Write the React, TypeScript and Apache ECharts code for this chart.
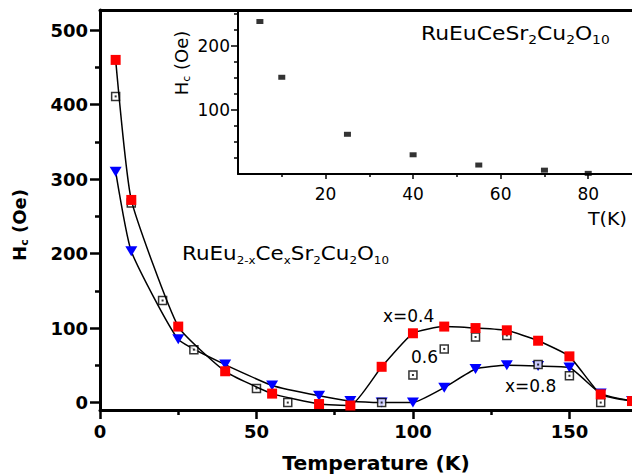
import React, { useEffect, useRef } from "react";
import * as echarts from "echarts";

// x = 0.4 (red squares, line)
const tempA = [5, 10, 25, 40, 55, 70, 80, 90, 100, 110, 120, 130, 140, 150, 160, 170];
const hcA = [460, 272, 102, 42, 12, -2, -4, 48, 93, 102, 100, 97, 83, 62, 11, 2];
// x = 0.6 (open squares)
const tempB = [5, 10, 20, 30, 50, 60, 90, 100, 110, 120, 130, 140, 150, 160];
const hcB = [411, 268, 137, 71, 19, 0, 0, 37, 72, 88, 90, 51, 36, 0];
// x = 0.8 (blue triangles, line)
const tempC = [5, 10, 25, 40, 55, 70, 80, 90, 100, 110, 120, 130, 140, 150, 160, 170];
const hcC = [310, 203, 85, 51, 23, 9, 2, 0, 0, 20, 45, 50, 49, 47, 12, 2];
// inset RuEuCeSr2Cu2O10
const tempIn = [5, 10, 25, 40, 55, 70, 80];
const hcIn = [238, 151, 62, 30, 14, 6, 1];

// ticks
const mainXTicks = [0, 50, 100, 150];
const mainXMinor = [25, 75, 125];
const mainYTicks = [0, 100, 200, 300, 400, 500];
const mainYMinor = [50, 150, 250, 350, 450];
const inXTicks = [20, 40, 60, 80];
const inXMinor = [10, 30, 50, 70];
const inYTicks = [100, 200];
const inYMinor = [25, 50, 75, 125, 150, 175, 225, 250];

const FONT = "DejaVu Sans";

function zip(a: number[], b: number[]) {
  return a.map((v, i) => [v, b[i]]);
}

export default function App() {
  const ref = useRef<HTMLDivElement>(null);
  useEffect(() => {
    if (!ref.current) return;
    const chart = echarts.init(ref.current, undefined, { renderer: "svg" });
    const black = "#000";
    const tickAxis = (
      grid: number,
      pos: string,
      min: number,
      max: number,
      values: number[],
      len: number,
      lw: number,
      showLine: boolean,
      axisW: number,
      labels: boolean,
      fs: number,
      bold: boolean,
      margin: number
    ) => ({
      type: "value",
      gridIndex: grid,
      position: pos,
      min,
      max,
      axisLine: { show: showLine, onZero: false, lineStyle: { color: black, width: axisW } },
      axisTick: {
        show: values.length > 0,
        customValues: values,
        length: len,
        inside: false,
        lineStyle: { color: black, width: lw },
      },
      axisLabel: {
        show: labels,
        customValues: values,
        fontFamily: FONT,
        fontSize: fs,
        fontWeight: bold ? "bold" : "normal",
        color: black,
        margin,
      },
      splitLine: { show: false },
    });

    const subRich = (size: number, sub: number, pad: number, bold: boolean) => ({
      m: { fontFamily: FONT, fontSize: size, fontWeight: bold ? "bold" : "normal", color: black },
      s: {
        fontFamily: FONT,
        fontSize: sub,
        fontWeight: bold ? "bold" : "normal",
        color: black,
        padding: [pad, 0, 0, 0],
      },
    });

    chart.setOption({
      animation: false,
      backgroundColor: "#fff",
      grid: [
        { left: 100, top: 10, right: -3, bottom: 66 },
        { left: 238, top: 10, right: -3, bottom: 302 },
      ],
      xAxis: [
        tickAxis(0, "bottom", 0, 170, mainXTicks, 9, 2.5, true, 3, true, 18, true, 12),
        tickAxis(0, "bottom", 0, 170, mainXMinor, 5, 2.5, false, 3, false, 18, true, 12),
        tickAxis(0, "top", 0, 170, [], 0, 0, true, 3, false, 18, true, 12),
        tickAxis(1, "bottom", 0, 90, inXTicks, 5, 1.5, true, 2, true, 17, false, 11),
        tickAxis(1, "bottom", 0, 90, inXMinor, 3, 1.5, false, 2, false, 17, false, 11),
      ],
      yAxis: [
        tickAxis(0, "left", -10, 527, mainYTicks, 10, 2.5, true, 3, true, 18, true, 12),
        tickAxis(0, "left", -10, 527, mainYMinor, 5, 2.5, false, 3, false, 18, true, 12),
        tickAxis(1, "left", 0, 256, inYTicks, 7, 1.5, true, 2, true, 17, false, 8),
        tickAxis(1, "left", 0, 256, inYMinor, 4, 1.5, false, 2, false, 17, false, 8),
      ],
      series: [
        {
          type: "line",
          xAxisIndex: 0,
          yAxisIndex: 0,
          data: zip(tempC, hcC),
          smooth: 0.15,
          symbol: "triangle",
          symbolRotate: 180,
          symbolSize: [12, 10],
          itemStyle: { color: "#0000ff" },
          lineStyle: { color: black, width: 1.5 },
          z: 2,
        },
        {
          type: "scatter",
          xAxisIndex: 0,
          yAxisIndex: 0,
          data: zip(tempB, hcB),
          symbol: "rect",
          symbolSize: 8,
          itemStyle: { color: "#fff", borderColor: black, borderWidth: 1.5 },
          z: 3,
        },
        {
          type: "scatter",
          xAxisIndex: 0,
          yAxisIndex: 0,
          data: zip(tempB, hcB),
          symbol: "rect",
          symbolSize: 2,
          itemStyle: { color: black },
          z: 3,
        },
        {
          type: "line",
          xAxisIndex: 0,
          yAxisIndex: 0,
          data: zip(tempA, hcA),
          smooth: 0.15,
          symbol: "rect",
          symbolSize: 10,
          itemStyle: { color: "#ff0000" },
          lineStyle: { color: black, width: 1.5 },
          z: 4,
        },
        {
          type: "scatter",
          xAxisIndex: 3,
          yAxisIndex: 2,
          data: zip(tempIn, hcIn),
          symbol: "rect",
          symbolSize: [7, 5],
          itemStyle: { color: "#000" },
          z: 3,
        },
      ],
      graphic: [
        {
          type: "text",
          x: 19,
          y: 225,
          rotation: Math.PI / 2,
          style: {
            text: "{m|H}{s|c}{m| (Oe)}",
            rich: subRich(18, 11, 10, true),
            align: "center",
            verticalAlign: "middle",
          },
        },
        {
          type: "text",
          x: 376,
          y: 464,
          scaleX: 1.07,
          style: {
            text: "Temperature (K)",
            fontFamily: FONT,
            fontSize: 19,
            fontWeight: "bold",
            fill: black,
            align: "center",
            verticalAlign: "middle",
          },
        },
        {
          type: "text",
          x: 182,
          y: 253,
          scaleX: 1.13,
          style: {
            text: "{m|RuEu}{s|2-x}{m|Ce}{s|x}{m|Sr}{s|2}{m|Cu}{s|2}{m|O}{s|10}",
            rich: subRich(19, 10.5, 16, false),
            align: "left",
            verticalAlign: "middle",
          },
        },
        {
          type: "text",
          x: 383,
          y: 316,
          style: { text: "x=0.4", fontFamily: FONT, fontSize: 17, fill: black, align: "left", verticalAlign: "middle" },
        },
        {
          type: "text",
          x: 411,
          y: 357,
          style: { text: "0.6", fontFamily: FONT, fontSize: 17, fill: black, align: "left", verticalAlign: "middle" },
        },
        {
          type: "text",
          x: 505,
          y: 386,
          style: { text: "x=0.8", fontFamily: FONT, fontSize: 17, fill: black, align: "left", verticalAlign: "middle" },
        },
        {
          type: "text",
          x: 421,
          y: 34,
          scaleX: 1.15,
          style: {
            text: "{m|RuEuCeSr}{s|2}{m|Cu}{s|2}{m|O}{s|10}",
            rich: subRich(19, 12, 12, false),
            align: "left",
            verticalAlign: "middle",
          },
        },
        {
          type: "text",
          x: 181,
          y: 63,
          rotation: Math.PI / 2,
          style: {
            text: "{m|H}{s|c}{m| (Oe)}",
            rich: subRich(18, 11, 10, false),
            align: "center",
            verticalAlign: "middle",
          },
        },
        {
          type: "text",
          x: 588,
          y: 219,
          scaleX: 1.12,
          style: { text: "T(K)", fontFamily: FONT, fontSize: 17, fill: black, align: "left", verticalAlign: "middle" },
        },
      ],
    });
    return () => chart.dispose();
  }, []);
  return (
    <div
      ref={ref}
      style={{ position: "fixed", left: 0, top: 0, width: 632, height: 476, overflow: "hidden" }}
    />
  );
}
